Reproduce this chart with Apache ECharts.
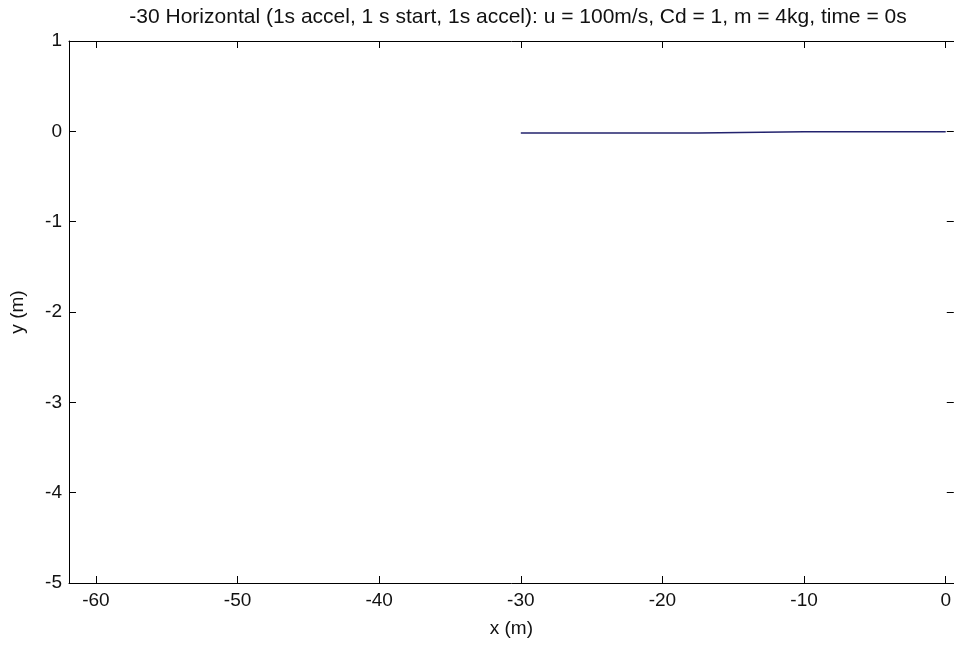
<!DOCTYPE html>
<html>
<head>
<meta charset="utf-8">
<script src="https://cdn.jsdelivr.net/npm/echarts@6/dist/echarts.min.js"></script>
<style>
  html, body { margin: 0; padding: 0; background: #fff; }
  #chart { width: 954px; height: 646px; }
</style>
</head>
<body>
<div id="chart"></div>
<script>
var titleText = '-30 Horizontal (1s accel, 1 s start, 1s accel): u = 100m/s, Cd = 1, m = 4kg, time = 0s';
var xTicks = [-60, -50, -40, -30, -20, -10, 0];
var yTicks = [-5, -4, -3, -2, -1, 0, 1];
// trajectory (x, y)
var pathX = [-30, -25, -20, -17.45, -17.45, -10, -5, 0];
var pathY = [-0.019, -0.019, -0.019, -0.019, -0.004, -0.004, -0.004, -0.004];

var font = 'Liberation Sans';
var chart = echarts.init(document.getElementById('chart'));

var xBase = {
  type: 'value', min: -61.9, max: 0.57,
  axisLine: { show: true, onZero: false, lineStyle: { color: '#000', width: 1 } },
  axisTick: { show: true, inside: true, length: 7, customValues: xTicks, lineStyle: { color: '#000' } },
  splitLine: { show: false }
};
var yBase = {
  type: 'value', min: yTicks[0], max: yTicks[yTicks.length - 1], interval: 1,
  axisLine: { show: true, onZero: false, lineStyle: { color: '#000', width: 1 } },
  axisTick: { show: true, inside: true, length: 7, lineStyle: { color: '#000' } },
  splitLine: { show: false }
};

chart.setOption({
  backgroundColor: '#fff',
  animation: false,
  title: {
    text: titleText, left: 513, top: 2, textAlign: 'center',
    textStyle: { fontFamily: font, fontSize: 21, fontWeight: 'normal', color: '#111' }
  },
  grid: { left: 69, right: -1, top: 41, bottom: 63, containLabel: false },
  xAxis: [
    Object.assign({}, xBase, {
      position: 'bottom', name: 'x (m)', nameLocation: 'middle', nameGap: 36,
      nameTextStyle: { fontFamily: font, fontSize: 19, color: '#111' },
      axisLabel: { customValues: xTicks, fontFamily: font, fontSize: 19, color: '#111', margin: 8 }
    }),
    Object.assign({}, xBase, { position: 'top', axisLabel: { show: false } })
  ],
  yAxis: [
    Object.assign({}, yBase, {
      position: 'left', name: 'y (m)', nameLocation: 'middle', nameGap: 42,
      nameTextStyle: { fontFamily: font, fontSize: 19, color: '#111' },
      axisLabel: { fontFamily: font, fontSize: 19, color: '#111', margin: 7 }
    }),
    Object.assign({}, yBase, { position: 'right', axisLabel: { show: false } })
  ],
  series: [{
    type: 'line', xAxisIndex: 0, yAxisIndex: 0, symbol: 'none',
    lineStyle: { color: '#23236e', width: 1.5 },
    data: pathX.map(function (x, i) { return [x, pathY[i]]; })
  }]
});
</script>
</body>
</html>
